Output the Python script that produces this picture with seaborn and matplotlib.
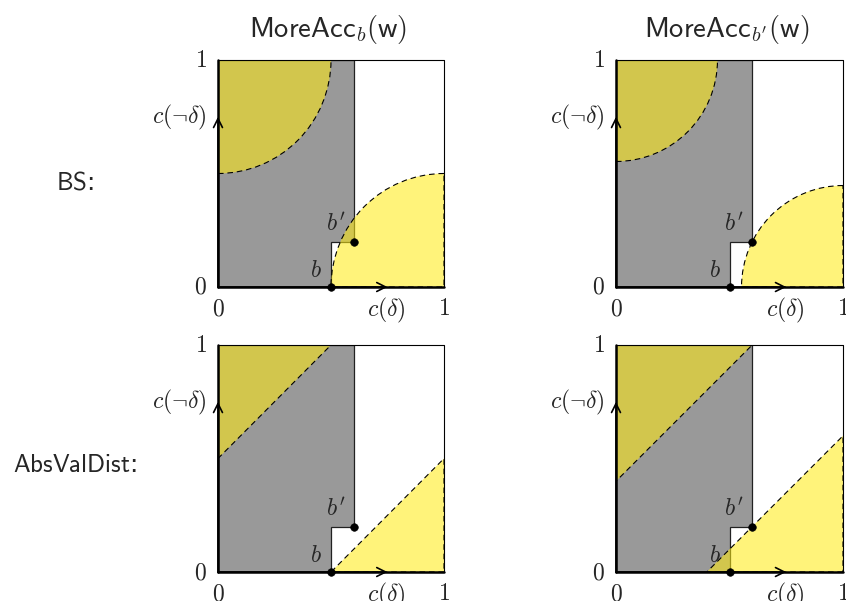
import matplotlib
matplotlib.use("Agg")
import matplotlib.pyplot as plt
from matplotlib.patches import Polygon, Wedge
import seaborn as sns
import pandas as pd

# credences: (c(delta), c(not delta))
b = (0.5, 0.0)
b_prime = (0.6, 0.2)

# column titles / row labels
col_titles = [r"$\mathsf{MoreAcc}_b(\mathsf{w})$", r"$\mathsf{MoreAcc}_{b'}(\mathsf{w})$"]
row_labels = [r"$\mathsf{BS}$:", r"$\mathsf{AbsValDist}$:"]

# radius of the BS balls around the worlds, per column
bs_radius = [0.5, 0.447]
# threshold of the AbsValDist half-planes, per column
abs_threshold = [0.5, 0.4]

points = pd.DataFrame({"x": [b[0], b_prime[0]], "y": [b[1], b_prime[1]], "name": ["b", "b'"]})

sns.set_style("white")
plt.rcParams["mathtext.fontset"] = "cm"
plt.rcParams["font.family"] = ["DejaVu Sans"]

fig = plt.figure(figsize=(8.46, 6.01), dpi=100)

lefts = [218 / 846, 616 / 846]
widths = [226 / 846, 227 / 846]
bottoms = [1 - 287 / 601, 1 - 572 / 601]
height = 227 / 601

grey = "#999999"
yellow = (1.0, 0.92, 0.07, 0.56)
dash = (0, (5, 3.5))

for r in range(2):
    for c in range(2):
        ax = fig.add_axes([lefts[c], bottoms[r], widths[c], height])

        # grey region: credences at most as confident as b'
        grey_poly = Polygon([(0, 0), (b[0], 0), (b[0], b_prime[1]), (b_prime[0], b_prime[1]),
                             (b_prime[0], 1), (0, 1)], closed=True,
                            facecolor=grey, edgecolor="#222222", lw=0.9, zorder=1)
        ax.add_patch(grey_poly)

        if r == 0:
            rad = bs_radius[c]
            shapes = [Wedge((0, 1), rad, 270, 360), Wedge((1, 0), rad, 90, 180)]
        else:
            t = abs_threshold[c]
            shapes = [Polygon([(0, 1), (0, t), (1 - t, 1)], closed=True),
                      Polygon([(1, 0), (t, 0), (1, 1 - t)], closed=True)]
        for s in shapes:
            s.set_facecolor(yellow)
            s.set_edgecolor("black")
            s.set_linestyle(dash)
            s.set_linewidth(0.8)
            s.set_zorder(2)
            ax.add_patch(s)

        # box
        ax.plot([0, 1, 1], [1, 1, 0], color="black", lw=0.8, zorder=3, clip_on=False)
        ax.plot([0, 1], [0, 0], color="black", lw=1.8, zorder=4, clip_on=False)
        ax.plot([0, 0], [0, 1], color="black", lw=1.8, zorder=4, clip_on=False)
        ax.annotate("", xy=(0.75, 0), xytext=(0, 0),
                    arrowprops=dict(arrowstyle="->", lw=1.2, color="black", mutation_scale=16,
                                    shrinkA=0, shrinkB=0), zorder=5)
        ax.annotate("", xy=(0, 0.75), xytext=(0, 0),
                    arrowprops=dict(arrowstyle="->", lw=1.2, color="black", mutation_scale=16,
                                    shrinkA=0, shrinkB=0), zorder=5)

        sns.scatterplot(data=points, x="x", y="y", color="black", s=30, edgecolor="black",
                        ax=ax, zorder=6, clip_on=False, legend=False)
        ax.set_xlim(0, 1)
        ax.set_ylim(0, 1)
        ax.axis("off")

        ax.text(b[0] - 0.065, b[1] + 0.075, r"$b$", fontsize=17, ha="center", va="center")
        ax.text(b_prime[0] - 0.08, b_prime[1] + 0.08, r"$b'$", fontsize=17, ha="center", va="center")

        ax.text(-0.05, 0, r"$0$", fontsize=17, ha="right", va="center")
        ax.text(0, -0.04, r"$0$", fontsize=17, ha="center", va="top")
        ax.text(-0.05, 1, r"$1$", fontsize=17, ha="right", va="center")
        ax.text(1, -0.04, r"$1$", fontsize=17, ha="center", va="top")
        ax.text(0.745, -0.04, r"$c(\delta)$", fontsize=17, ha="center", va="top")
        ax.text(-0.05, 0.745, r"$c(\neg\delta)$", fontsize=17, ha="right", va="center")

        if r == 0:
            fig.text(lefts[c] + widths[c] / 2 - 3 / 846, 1 - 30 / 601, col_titles[c],
                     fontsize=20.5, ha="center", va="center")
        if c == 0:
            fig.text(75 / 846, 1 - [182, 465][r] / 601, row_labels[r], fontsize=18,
                     ha="center", va="center")

fig.savefig("out.png", dpi=100)
